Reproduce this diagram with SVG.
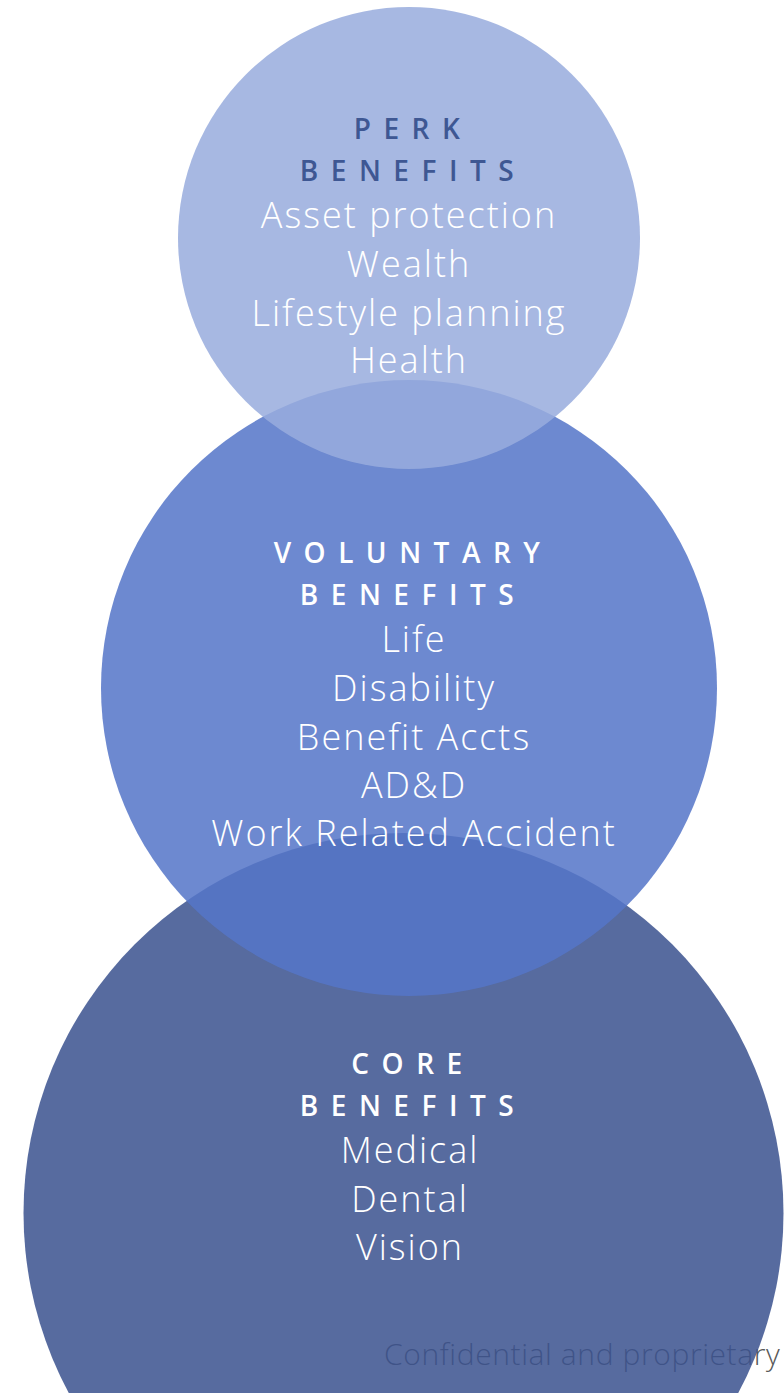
<svg xmlns="http://www.w3.org/2000/svg" width="784" height="1393" viewBox="0 0 784 1393">
  <style>
    .title { font-family: "Open Sans", "Noto Sans", sans-serif; font-weight: 600; font-size: 28px; letter-spacing: 12.5px; text-anchor: middle; }
    .item { font-family: "Open Sans", "Noto Sans", sans-serif; font-weight: 300; font-size: 36px; letter-spacing: 2px; fill: #ffffff; text-anchor: middle; }
    .light { fill: #ffffff; }
    .dark { fill: #3E5793; }
    .note { font-family: "Open Sans", "Noto Sans", sans-serif; font-weight: 300; font-size: 30px; letter-spacing: 0.6px; fill: #595959; }
  </style>
  <rect width="784" height="1393" fill="#ffffff"/>

  <!-- footer sits below the translucent base circle -->
  <text class="note" x="384" y="1365">Confidential and proprietary</text>

  <g id="core">
    <circle cx="403.5" cy="1213" r="380" fill="#3B538F" fill-opacity="0.86"/>
    <text class="title light" x="413" y="1074">CORE</text>
    <text class="title light" x="413" y="1116">BENEFITS</text>
    <text class="item" x="410" y="1163">Medical</text>
    <text class="item" x="410" y="1212">Dental</text>
    <text class="item" x="410" y="1260">Vision</text>
  </g>

  <g id="voluntary">
    <circle cx="409" cy="688" r="308" fill="#5576C8" fill-opacity="0.86"/>
    <text class="title light" x="413" y="563">VOLUNTARY</text>
    <text class="title light" x="413" y="605">BENEFITS</text>
    <text class="item" x="414" y="652">Life</text>
    <text class="item" x="414" y="701">Disability</text>
    <text class="item" x="414" y="750">Benefit Accts</text>
    <text class="item" x="414" y="798">AD&amp;D</text>
    <text class="item" x="414" y="846">Work Related Accident</text>
  </g>

  <g id="perk">
    <circle cx="409" cy="238" r="231" fill="#99ACDD" fill-opacity="0.86"/>
    <text class="title dark" x="413" y="139">PERK</text>
    <text class="title dark" x="413" y="181">BENEFITS</text>
    <text class="item" x="409" y="228">Asset protection</text>
    <text class="item" x="409" y="277">Wealth</text>
    <text class="item" x="409" y="326">Lifestyle planning</text>
    <text class="item" x="409" y="373">Health</text>
  </g>
</svg>
